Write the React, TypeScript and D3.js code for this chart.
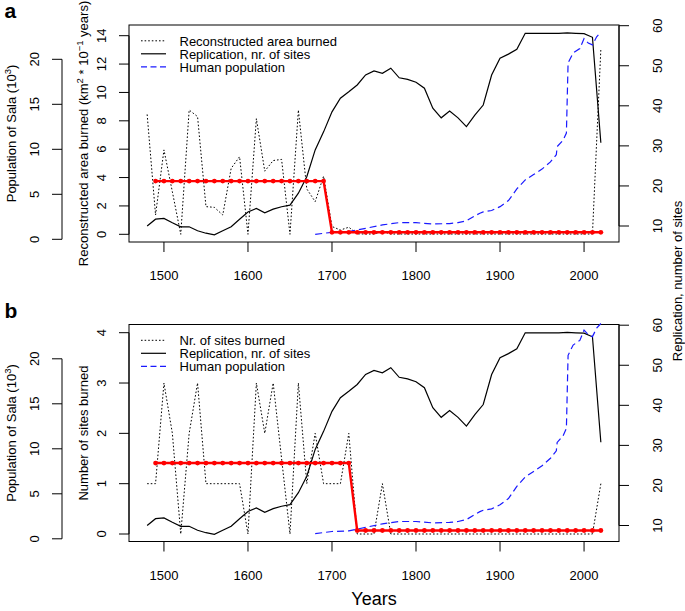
import React from "react";
import * as d3 from "d3";

// ---------- data ----------
const YEARS = [1480, 1490, 1500, 1510, 1520, 1530, 1540, 1550, 1560, 1570, 1580, 1590, 1600, 1610, 1620, 1630, 1640, 1650, 1660, 1670, 1680, 1690, 1700, 1710, 1720, 1730, 1740, 1750, 1760, 1770, 1780, 1790, 1800, 1810, 1820, 1830, 1840, 1850, 1860, 1870, 1880, 1890, 1900, 1910, 1920, 1930, 1940, 1950, 1960, 1970, 1980, 1990, 2000, 2010, 2020];

const AREA_BURNED = [8.45, 1.36, 5.95, 3.0, 0, 8.76, 8.3, 1.95, 1.9, 1.36, 4.65, 5.47, 0, 8.15, 4.45, 5.2, 5.28, 0, 8.76, 3.2, 2.3, 4.1, 0.55, 0.3, 0.5, 0.03, 0.02, 0.02, 0.2, 0.02, 0.02, 0.02, 0.02, 0.02, 0.02, 0.02, 0.02, 0.02, 0.02, 0.02, 0.02, 0.02, 0.02, 0.02, 0.02, 0.02, 0.02, 0.02, 0.02, 0.02, 0.02, 0.02, 0.02, 0.02, 13.05];

const SITES_BURNED = [1, 1, 3, 2, 0, 2, 3, 1, 1, 1, 1, 1, 0, 3, 2, 3, 1.5, 0, 3, 1, 2, 1, 1, 1, 2, 0, 0, 0, 1, 0, 0, 0, 0, 0, 0, 0, 0, 0, 0, 0, 0, 0, 0, 0, 0, 0, 0, 0, 0, 0, 0, 0, 0, 0, 1];

const REPLICATION = [10.0, 11.7, 11.9, 10.8, 9.8, 9.8, 8.8, 8.2, 7.8, 8.8, 9.8, 11.7, 13.5, 14.4, 13.3, 14.2, 14.8, 15.2, 18.2, 22.3, 29.0, 33.5, 38.5, 41.9, 43.5, 45.2, 47.7, 48.7, 48.1, 49.4, 47.0, 46.6, 45.9, 44.4, 39.4, 37.0, 38.7, 37.0, 34.8, 37.7, 40.2, 47.7, 51.9, 52.9, 54.1, 58.1, 58.1, 58.1, 58.1, 58.1, 58.2, 58.1, 58.0, 57.1, 30.8];

const MEAN_YEARS = YEARS.slice(1);
const AREA_MEAN = [3.75, 3.75, 3.75, 3.75, 3.75, 3.75, 3.75, 3.75, 3.75, 3.75, 3.75, 3.75, 3.75, 3.75, 3.75, 3.75, 3.75, 3.75, 3.75, 3.75, 3.75, 0.14, 0.14, 0.14, 0.14, 0.14, 0.14, 0.14, 0.14, 0.14, 0.14, 0.14, 0.14, 0.14, 0.14, 0.14, 0.14, 0.14, 0.14, 0.14, 0.14, 0.14, 0.14, 0.14, 0.14, 0.14, 0.14, 0.14, 0.14, 0.14, 0.14, 0.14, 0.14, 0.14];
const SITES_MEAN = [1.41, 1.41, 1.41, 1.41, 1.41, 1.41, 1.41, 1.41, 1.41, 1.41, 1.41, 1.41, 1.41, 1.41, 1.41, 1.41, 1.41, 1.41, 1.41, 1.41, 1.41, 1.41, 1.41, 1.41, 0.07, 0.07, 0.07, 0.07, 0.07, 0.07, 0.07, 0.07, 0.07, 0.07, 0.07, 0.07, 0.07, 0.07, 0.07, 0.07, 0.07, 0.07, 0.07, 0.07, 0.07, 0.07, 0.07, 0.07, 0.07, 0.07, 0.07, 0.07, 0.07, 0.07];

const POP_YEARS = [1680, 1700, 1720, 1740, 1760, 1780, 1800, 1820, 1840, 1850, 1860, 1870, 1876, 1880, 1890, 1900, 1910, 1920, 1930, 1940, 1950, 1960, 1967, 1968, 1975, 1979, 1981, 1987, 1995, 2000, 2005, 2010, 2015, 2020];
const POP_VALUES = [0.55, 0.78, 0.85, 1.22, 1.6, 1.85, 1.85, 1.7, 1.75, 1.85, 2.05, 2.6, 2.9, 3.05, 3.2, 3.63, 4.3, 5.6, 6.6, 7.2, 7.8, 8.6, 9.4, 10.3, 11.0, 11.8, 19.6, 20.7, 21.2, 22.3, 21.8, 21.6, 22.5, 23.0];

const X_TICKS = [1500, 1600, 1700, 1800, 1900, 2000];
const AREA_TICKS = [0, 2, 4, 6, 8, 10, 12, 14];
const SITES_TICKS = [0, 1, 2, 3, 4];
const SALA_TICKS = [0, 5, 10, 15, 20];
const REPL_TICKS = [10, 20, 30, 40, 50, 60];

const FONT = "'Liberation Sans', Arial, Helvetica, sans-serif";

const x = d3.scaleLinear().domain([1458.4, 2041.6]).range([129, 619]);

type PanelProps = {
  dy: number;
  letter: string;
  burned: number[];
  mean: number[];
  leftTicks: number[];
  leftDomain: [number, number];
  leftRange: [number, number];
  legendFirst: string;
  popTop: number;
  leftTitle: React.ReactNode;
};

function Panel(p: PanelProps) {
  const { dy } = p;
  const y0 = 25 + dy;
  const y1 = 242 + dy;
  const yL = d3.scaleLinear().domain(p.leftDomain).range(p.leftRange);
  const yS = d3.scaleLinear().domain([0, 20]).range([239.3 + dy, 59.3 + dy]);
  const yP = d3.scaleLinear().domain([0, 20]).range([239.3 + dy, p.popTop]);
  const yR = d3.scaleLinear().domain([10, 60]).range([226 + dy, 25.7 + dy]);

  const lineL = d3.line<number>().x((_, i) => x(YEARS[i])).y((d) => yL(d));
  const lineR = d3.line<number>().x((_, i) => x(YEARS[i])).y((d) => yR(d));
  const lineP = d3.line<number>().x((_, i) => x(POP_YEARS[i])).y((d) => yP(d));
  const lineM = d3.line<number>().x((_, i) => x(MEAN_YEARS[i])).y((d) => yL(d));

  const lt = p.leftTicks;
  const legendRows = [
    { label: p.legendFirst, dash: "1.6,2", color: "#000", w: 1 },
    { label: "Replication, nr. of sites", dash: "", color: "#000", w: 1.2 },
    { label: "Human population", dash: "6,3.5", color: "#1a1aff", w: 1.2 },
  ];

  return (
    <g fontFamily={FONT} fontSize={13} fill="#000">
      <text x={4.5} y={18 + dy} fontSize={21} fontWeight="bold">{p.letter}</text>

      <rect x={129} y={y0} width={490} height={y1 - y0} fill="none" stroke="#000" strokeWidth={1} />

      {X_TICKS.map((t) => (
        <g key={"x" + t}>
          <line x1={x(t)} x2={x(t)} y1={y1} y2={y1 + 10} stroke="#000" />
          <text x={x(t)} y={280 + dy} textAnchor="middle">{t}</text>
        </g>
      ))}

      <line x1={129} x2={129} y1={yL(lt[0])} y2={yL(lt[lt.length - 1])} stroke="#000" />
      {lt.map((t) => (
        <g key={"l" + t}>
          <line x1={119} x2={129} y1={yL(t)} y2={yL(t)} stroke="#000" />
          <text transform={`translate(101.5,${yL(t)}) rotate(-90)`} textAnchor="middle" dominantBaseline="central">{t}</text>
        </g>
      ))}
      <text transform={`translate(88,${(y0 + y1) / 2}) rotate(-90)`} textAnchor="middle">{p.leftTitle}</text>

      <line x1={62} x2={62} y1={yS(0)} y2={yS(20)} stroke="#000" />
      {SALA_TICKS.map((t) => (
        <g key={"s" + t}>
          <line x1={52} x2={62} y1={yS(t)} y2={yS(t)} stroke="#000" />
          <text transform={`translate(34,${yS(t)}) rotate(-90)`} textAnchor="middle" dominantBaseline="central">{t}</text>
        </g>
      ))}
      <text transform={`translate(15.5,${(y0 + y1) / 2}) rotate(-90)`} textAnchor="middle">
        Population of Sala (10<tspan fontSize={9.5} dy={-5}>3</tspan><tspan dy={5}>)</tspan>
      </text>

      <line x1={619} x2={619} y1={yR(10)} y2={yR(60)} stroke="#000" />
      {REPL_TICKS.map((t) => (
        <g key={"r" + t}>
          <line x1={619} x2={629} y1={yR(t)} y2={yR(t)} stroke="#000" />
          <text transform={`translate(657.5,${yR(t)}) rotate(-90)`} textAnchor="middle" dominantBaseline="central">{t}</text>
        </g>
      ))}

      <path d={lineL(p.burned) || ""} fill="none" stroke="#000" strokeWidth={1} strokeDasharray="1.6,2" />
      <path d={lineR(REPLICATION) || ""} fill="none" stroke="#000" strokeWidth={1.2} />
      <path d={lineP(POP_VALUES) || ""} fill="none" stroke="#1a1aff" strokeWidth={1.2} strokeDasharray="7,4" />
      <path d={lineM(p.mean) || ""} fill="none" stroke="#ff0000" strokeWidth={2.4} />
      {p.mean.map((v, i) => (
        <circle key={"m" + i} cx={x(MEAN_YEARS[i])} cy={yL(v)} r={2.4} fill="#ff0000" />
      ))}

      {legendRows.map((r, i) => (
        <g key={"lg" + i}>
          <line x1={141} x2={166} y1={40.8 + dy + i * 13} y2={40.8 + dy + i * 13} stroke={r.color} strokeWidth={r.w} strokeDasharray={r.dash || undefined} />
          <text x={179.5} y={45.5 + dy + i * 13}>{r.label}</text>
        </g>
      ))}
    </g>
  );
}

export default function App() {
  return (
    <svg width={685} height={611} viewBox="0 0 685 611" style={{ display: "block", position: "absolute", left: 0, top: 0, background: "#fff" }}>
      <rect x={0} y={0} width={685} height={611} fill="#fff" />
      <Panel
        dy={0}
        letter="a"
        burned={AREA_BURNED}
        mean={AREA_MEAN}
        leftTicks={AREA_TICKS}
        leftDomain={[0, 14]}
        leftRange={[234.3, 35.7]}
        legendFirst="Reconstructed area burned"
        popTop={59.3}
        leftTitle={
          <>
            Reconstructed area burned (km<tspan fontSize={9.5} dy={-5}>2</tspan>
            <tspan dy={5}> * 10</tspan><tspan fontSize={9.5} dy={-5}>−1</tspan>
            <tspan dy={5}> years)</tspan>
          </>
        }
      />
      <Panel
        dy={299.5}
        letter="b"
        burned={SITES_BURNED}
        mean={SITES_MEAN}
        leftTicks={SITES_TICKS}
        leftDomain={[0, 4]}
        leftRange={[534, 332.7]}
        legendFirst="Nr. of sites burned"
        popTop={351.6}
        leftTitle={<>Number of sites burned</>}
      />
      <g fontFamily={FONT} fontSize={13} fill="#000">
        <text transform="translate(682,281) rotate(-90)" textAnchor="middle">Replication, number of sites</text>
        <text x={374} y={605} textAnchor="middle" fontSize={18}>Years</text>
      </g>
    </svg>
  );
}
